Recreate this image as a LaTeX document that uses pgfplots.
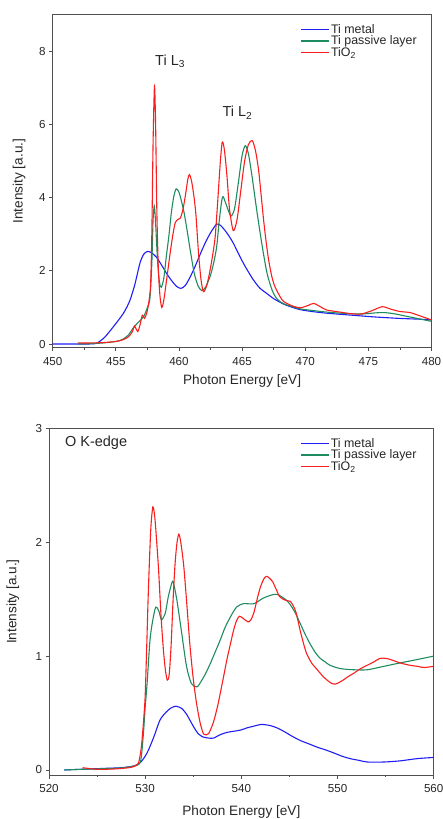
\documentclass[border=0pt]{standalone}
\usepackage{fontspec}
\setmainfont{Liberation Sans}
\usepackage{pgfplots}
\pgfplotsset{compat=1.18}

\definecolor{cBlue}{RGB}{30,30,245}
\definecolor{cGreen}{RGB}{30,140,95}
\definecolor{cRed}{RGB}{250,30,30}
\definecolor{cAxis}{RGB}{80,80,80}

\pgfplotsset{
  xasplot/.style={
    scale only axis,
    /pgf/number format/assume math mode=true,
    axis line style={cAxis, line width=0.9pt},
    every tick/.style={cAxis, line width=0.8pt},
    tick align=outside,
    xtick pos=left, ytick pos=left,
    major tick length=3.5pt, minor tick length=2.2pt,
    minor x tick num=1,
    tick label style={font=\fontsize{11.6}{13}\selectfont, text=black!85},
    x tick label style={yshift=-2.5pt},
    label style={font=\fontsize{13.6}{15}\selectfont, text=black!85},
    xlabel={Photon Energy [eV]},
    ylabel={Intensity [a.u.]},
    legend cell align=left,
    legend style={draw=none, fill=none, anchor=north west, inner sep=0pt,
      row sep=-1.5pt, font=\fontsize{12.4}{14}\selectfont,
      nodes={inner sep=1.2pt, text=black!85}},
    legend image code/.code={\draw[#1] plot coordinates {(0pt,0pt) (14pt,0pt) (28pt,0pt)};},
    legend image post style={line width=1.6pt, sharp plot},
    every axis plot/.append style={line width=1.1pt, smooth, tension=0.45},
  }
}

\begin{document}
\begin{tikzpicture}
\useasboundingbox (0,0) rectangle (443pt,819pt);

% ---------- Ti L-edge ----------
\begin{axis}[xasplot,
  at={(52.7pt,471.3pt)}, anchor=south west,
  width=378.8pt, height=333pt,
  xmin=450, xmax=480, ymin=-0.1, ymax=9,
  xtick={450,455,...,480}, ytick={0,2,4,6,8},
  xlabel style={at={(axis description cs:0.5,-0.099)}, anchor=center},
  ylabel style={at={(axis description cs:-0.089,0.5)}, anchor=center},
  legend style={at={(axis description cs:0.653,0.975)}},
]
\addplot[cBlue] coordinates {
(450,0) (452,0) (453,0.003) (453.5,0.025) (454.1,0.18) (454.8,0.47)
(455.6,0.84) (456.1,1.18) (456.5,1.62) (456.9,2.2) (457.2,2.45)
(457.5,2.53) (457.8,2.5) (458.2,2.38) (458.6,2.17) (459,1.94) (459.4,1.74)
(459.8,1.58) (460.15,1.52) (460.5,1.6) (460.9,1.84) (461.3,2.14) (461.7,2.47)
(462.1,2.78) (462.5,3.04) (462.8,3.2) (463.0,3.28) (463.3,3.24) (463.7,3.08)
(464.0,2.93) (464.3,2.76) (464.7,2.48) (465.1,2.21) (465.5,1.97) (465.9,1.75)
(466.4,1.53) (467.0,1.37) (467.5,1.24) (468.3,1.09) (469,1.0) (469.6,0.94)
(470.5,0.89) (471.5,0.85) (472.5,0.82) (474,0.78) (475.5,0.74) (477.5,0.7)
(479,0.68) (480,0.66)};
\addlegendentry{Ti metal}
\addplot[cGreen] coordinates {
(452,0) (453,0.01) (454,0.03) (455,0.07) (455.5,0.12) (456,0.25) (456.4,0.45)
(456.8,0.6) (457.2,0.75) (457.5,1.0) (457.7,1.25) (457.85,2.2) (457.95,3.4)
(458.05,3.76) (458.15,3.3) (458.3,2.3) (458.45,1.7) (458.6,1.55) (458.8,1.8)
(459.0,2.4) (459.2,2.95) (459.4,3.6) (459.6,4.05) (459.78,4.24) (460.0,4.15)
(460.2,3.9) (460.4,3.6) (460.6,3.2) (460.9,2.55) (461.2,1.95) (461.5,1.6)
(461.8,1.46) (462.1,1.55) (462.5,1.88) (462.8,2.3) (463.0,2.7) (463.2,3.4)
(463.45,4.02) (463.7,3.85) (464.1,3.5) (464.4,3.7) (464.7,4.4) (465.0,5.15)
(465.25,5.42) (465.5,5.2) (465.8,4.55) (466.1,3.8) (466.4,3.1) (466.7,2.45)
(467.0,1.9) (467.4,1.45) (467.8,1.22) (468.3,1.1) (469,1.02) (469.6,0.96)
(470.5,0.92) (471.5,0.88) (472.5,0.85) (473.5,0.83) (474.5,0.82) (475.5,0.85)
(476.2,0.86) (477,0.83) (478,0.76) (479,0.69) (480,0.62)};
\addlegendentry{Ti passive layer}
\addplot[cRed] coordinates {
(452,0.03) (453,0.03) (454,0.04) (455,0.07) (455.6,0.12) (456,0.2) (456.3,0.33)
(456.47,0.49) (456.6,0.42) (456.74,0.34) (456.9,0.5) (457.1,0.79) (457.27,0.7)
(457.45,0.85) (457.6,1.11) (457.75,1.6) (457.85,3.0) (457.95,5.5) (458.06,7.05)
(458.15,6.0) (458.25,3.6) (458.37,2.03) (458.5,1.3) (458.64,1.0) (458.8,1.2)
(459.0,1.7) (459.3,2.48) (459.5,2.95) (459.7,3.31) (459.9,3.4) (460.1,3.44)
(460.3,3.65) (460.5,4.04) (460.7,4.5) (460.83,4.63) (461.0,4.45) (461.2,4.0)
(461.35,3.5) (461.55,2.48) (461.75,1.75) (461.94,1.43) (462.2,1.6) (462.47,2.03)
(462.7,2.5) (462.87,2.94) (463.05,3.8) (463.27,4.95) (463.43,5.52) (463.6,5.3)
(463.8,4.6) (464.0,3.7) (464.3,3.1) (464.6,3.4) (464.9,4.2) (465.2,5.0)
(465.5,5.45) (465.8,5.56) (466.05,5.3) (466.3,4.77) (466.5,4.1) (466.7,3.4)
(466.9,2.8) (467.1,2.3) (467.35,1.85) (467.6,1.57) (468.0,1.3) (468.3,1.16)
(469,1.04) (469.6,0.99) (470.2,1.05) (470.66,1.11) (471.2,1.02) (471.7,0.93)
(472.8,0.87) (473.6,0.83) (474.4,0.82) (475.2,0.9) (476.1,1.02) (476.8,0.95)
(477.5,0.89) (478.3,0.86) (479,0.78) (480,0.66)};
\addlegendentry{TiO\textsubscript{2}}
\node[font=\fontsize{14.5}{16}\selectfont, text=black!85] at (axis cs:459.3,7.72) {Ti L\textsubscript{3}};
\node[font=\fontsize{14.5}{16}\selectfont, text=black!85] at (axis cs:464.63,6.32) {Ti L\textsubscript{2}};
\end{axis}

% ---------- O K-edge ----------
\begin{axis}[xasplot,
  at={(49pt,44pt)}, anchor=south west,
  width=384.7pt, height=346.7pt,
  xmin=520, xmax=560, ymin=-0.044, ymax=3,
  xtick={520,530,...,560}, ytick={0,1,2,3},
  xlabel style={at={(axis description cs:0.5,-0.106)}, anchor=center},
  ylabel style={at={(axis description cs:-0.094,0.5)}, anchor=center},
  legend style={at={(axis description cs:0.652,0.975)}},
]
\addplot[cBlue] coordinates {
(521.6,0) (523,0.005) (524.5,0.01) (526,0.015) (527.5,0.02) (528.8,0.035)
(529.5,0.065) (530.2,0.15) (530.9,0.29) (531.55,0.44) (532.2,0.51) (532.7,0.545)
(533.2,0.56) (533.8,0.54) (534.3,0.49) (534.7,0.43) (535.1,0.37) (535.5,0.32)
(536,0.29) (536.6,0.28) (537.1,0.28) (537.8,0.31) (538.5,0.33) (539.2,0.34)
(539.9,0.35) (540.6,0.37) (541.3,0.385) (542.1,0.40) (543.0,0.39) (543.7,0.37)
(544.4,0.34) (545.2,0.30) (546.1,0.26) (547,0.23) (547.9,0.2) (548.8,0.175)
(549.6,0.15) (550.5,0.12) (551.3,0.10) (552.2,0.085) (553.1,0.07) (554.8,0.07)
(556.5,0.08) (558.3,0.10) (560,0.11)};
\addlegendentry{Ti metal}
\addplot[cGreen] coordinates {
(521.6,0) (523,0.005) (525,0.01) (527,0.015) (528.3,0.025) (528.8,0.035)
(529.5,0.07) (529.8,0.3) (530.0,0.55) (530.2,0.76) (530.5,1.14) (530.8,1.32)
(531.1,1.43) (531.4,1.40) (531.7,1.32) (532.1,1.38) (532.4,1.52) (532.8,1.65)
(532.95,1.64) (533.3,1.49) (533.8,1.2) (534.3,0.91) (534.8,0.76) (535.4,0.73)
(535.9,0.79) (536.3,0.85) (536.8,0.94) (537.3,1.04) (537.8,1.14) (538.3,1.25)
(538.9,1.35) (539.5,1.43) (540.2,1.46) (541.3,1.46) (542.3,1.51) (543.3,1.54)
(543.8,1.54) (544.2,1.52) (544.7,1.49) (545.1,1.45) (545.6,1.38) (546.1,1.29)
(546.7,1.18) (547.2,1.10) (547.7,1.03) (548.2,0.98) (548.7,0.95) (549.2,0.92)
(550.3,0.89) (551.7,0.88) (553.1,0.88) (554.8,0.91) (556.5,0.94) (558.3,0.97)
(560,1.0)};
\addlegendentry{Ti passive layer}
\addplot[cRed] coordinates {
(523.5,0.02) (524.5,0.01) (525.3,0.005) (527,0.01) (528.3,0.02) (528.8,0.03)
(529.3,0.06) (529.6,0.2) (529.85,0.45) (530.0,0.65) (530.15,1.05) (530.3,1.49)
(530.45,1.85) (530.6,2.14) (530.8,2.31) (531.0,2.22) (531.2,2.0) (531.4,1.75)
(531.65,1.35) (531.9,1.05) (532.1,0.88) (532.3,0.79) (532.5,0.84) (532.7,1.1)
(532.9,1.49) (533.1,1.8) (533.3,1.99) (533.5,2.07) (533.7,2.0) (534.0,1.8)
(534.3,1.49) (534.65,1.1) (535.0,0.8) (535.35,0.58) (535.7,0.42) (536.0,0.33)
(536.2,0.31) (536.6,0.32) (537.1,0.42) (537.5,0.55) (537.8,0.67) (538.2,0.84)
(538.5,0.97) (538.9,1.12) (539.2,1.23) (539.5,1.31) (539.8,1.35) (540.2,1.33)
(540.7,1.30) (541.0,1.32) (541.3,1.38) (541.7,1.52) (542.0,1.61) (542.35,1.68)
(542.65,1.70) (543.2,1.66) (543.6,1.59) (544.0,1.52) (544.6,1.49) (545.1,1.48)
(545.4,1.44) (545.7,1.38) (546.1,1.23) (546.5,1.1) (546.8,1.02) (547.3,0.94)
(547.9,0.88) (548.4,0.83) (548.9,0.79) (549.4,0.76) (549.8,0.755) (550.2,0.77)
(550.6,0.79) (551.1,0.82) (551.7,0.85) (552.4,0.89) (553.1,0.92) (553.8,0.95)
(554.4,0.98) (555,0.98) (555.5,0.97) (556.5,0.94) (557.5,0.92) (558.3,0.91)
(559,0.90) (560,0.91)};
\addlegendentry{TiO\textsubscript{2}}
\node[anchor=west, font=\fontsize{14.5}{16}\selectfont, text=black!85] at (axis cs:521.3,2.87) {O K-edge};
\end{axis}
\end{tikzpicture}
\end{document}
